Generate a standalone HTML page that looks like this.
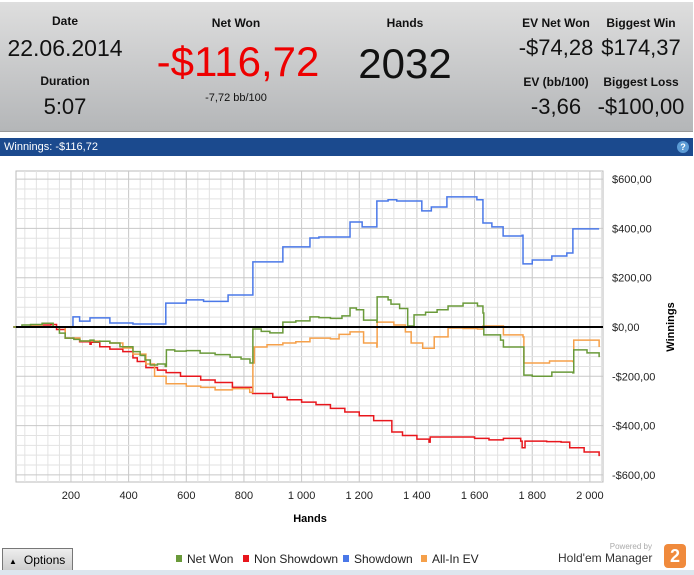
<!DOCTYPE html>
<html><head><meta charset="utf-8"><style>
body{margin:0;width:694px;height:575px;background:#fff;font-family:"Liberation Sans Narrow","Liberation Sans",sans-serif;overflow:hidden;position:relative}
.hdr{position:absolute;left:0;top:2px;width:693px;height:129px;background:linear-gradient(#dedede,#b4b6b8);border-bottom:1px solid #999}
.t{position:absolute;text-align:center;color:#111;white-space:nowrap;transform:translateX(-50%)}
.s{font-size:12px;font-weight:bold}
.tb{position:absolute;left:0;top:138px;width:693px;height:18px;background:#1b4a8e;color:#fff;font-size:11px;line-height:18px}
.foot{position:absolute;left:0;top:570px;width:694px;height:5px;background:#dde6ee}
</style></head><body>
<div class="hdr">
<div class="t s" style="left:65px;top:12px">Date</div>
<div class="t" style="left:65px;top:33px;font-size:23px">22.06.2014</div>
<div class="t s" style="left:65px;top:72px">Duration</div>
<div class="t" style="left:65px;top:92px;font-size:22px">5:07</div>
<div class="t s" style="left:236px;top:14px">Net Won</div>
<div class="t" style="left:238px;top:36px;font-size:42px;color:#e00">-$116,72</div>
<div class="t" style="left:236px;top:90px;font-size:11px">-7,72 bb/100</div>
<div class="t s" style="left:405px;top:14px">Hands</div>
<div class="t" style="left:405px;top:38px;font-size:42px">2032</div>
<div class="t s" style="left:556px;top:14px">EV Net Won</div>
<div class="t" style="left:556px;top:33px;font-size:22px">-$74,28</div>
<div class="t s" style="left:641px;top:14px">Biggest Win</div>
<div class="t" style="left:641px;top:33px;font-size:22px">$174,37</div>
<div class="t s" style="left:556px;top:73px">EV (bb/100)</div>
<div class="t" style="left:556px;top:92px;font-size:22px">-3,66</div>
<div class="t s" style="left:641px;top:73px">Biggest Loss</div>
<div class="t" style="left:641px;top:92px;font-size:22px">-$100,00</div>
</div>
<div class="tb"><span style="margin-left:4px">Winnings: -$116,72</span>
<span style="position:absolute;right:4px;top:3px;width:12px;height:12px;border-radius:6px;background:#5b9bd5;font-size:9px;line-height:12px;text-align:center;font-weight:bold">?</span></div>
<svg id="chart" width="694" height="575" style="position:absolute;left:0;top:0"></svg>
<div style="position:absolute;left:2px;top:548px;width:69px;height:22px;border:1px solid #777;background:linear-gradient(#eee,#ccc);font-size:12px;line-height:22px"><span style="font-size:8px;margin:0 7px 0 6px">▲</span>Options</div>
<div style="position:absolute;left:540px;top:542px;width:150px;height:28px;font-size:12px;color:#333">
<div style="position:absolute;right:38px;top:0;font-size:8px;color:#aaa">Powered by</div>
<div style="position:absolute;left:18px;top:9px">Hold'em Manager</div>
<div style="position:absolute;right:4px;top:2px;width:22px;height:24px;background:#f08a3c;color:#fff;font-weight:bold;font-size:18px;text-align:center;line-height:24px;border-radius:4px">2</div></div>
<div class="foot"></div>
<script>
const tickHands=[200,400,600,800,1000,1200,1400,1600,1800,2000];
const tickHandLabels=["200","400","600","800","1 000","1 200","1 400","1 600","1 800","2 000"];
const tickVals=[600,400,200,0,-200,-400,-600];
const tickValLabels=["$600,00","$400,00","$200,00","$0,00","-$200,00","-$400,00","-$600,00"];
const seriesNames=["Net Won","Non Showdown","Showdown","All-In EV"];
const seriesColors=["#6a9a3a","#e8161c","#4a78e8","#f5a04a"];
const sdHands=[0,207,230,266,272,335,415,529,600,660,745,831,935,1029,1060,1168,1210,1261,1300,1330,1417,1450,1504,1608,1629,1660,1699,1765,1768,1800,1868,1920,1941,2032];
const sdVals=[0,41,24,37,37,16,12,97,110,104,130,264,325,361,365,426,406,511,516,511,471,487,528,516,422,406,369,372,256,272,288,300,398,398];
const nwHands=[0,30,60,100,138,160,180,210,231,266,280,300,335,370,415,440,457,475,500,527,531,560,600,648,700,752,790,821,831,860,890,935,980,1029,1060,1100,1140,1168,1190,1215,1261,1262,1300,1310,1340,1368,1390,1430,1470,1508,1560,1610,1629,1632,1690,1700,1768,1771,1800,1868,1941,1944,1990,2032];
const nwVals=[0,8,10,15,0,-25,-45,-50,-57,-53,-60,-58,-65,-80,-100,-115,-134,-154,-150,-160,-93,-98,-96,-106,-112,-122,-130,-146,-8,-18,-24,20,25,41,38,35,45,77,70,28,20,122,110,93,75,4,49,60,70,85,97,85,57,-32,-53,-81,-81,-195,-200,-183,-186,-93,-105,-122];
const nsHands=[0,60,130,150,180,230,266,270,300,335,380,415,430,460,500,530,580,650,700,760,830,900,950,1000,1050,1100,1150,1200,1250,1313,1350,1400,1442,1446,1550,1600,1650,1700,1760,1765,1775,1850,1900,1930,1980,2032];
const nsVals=[0,8,10,-10,-45,-60,-70,-62,-80,-90,-100,-125,-140,-165,-175,-185,-200,-215,-225,-245,-270,-285,-295,-305,-315,-330,-345,-360,-380,-426,-440,-455,-467,-446,-446,-452,-458,-452,-463,-490,-463,-465,-467,-490,-507,-524];
const aiHands=[0,60,100,138,180,231,300,335,380,415,460,490,530,600,650,700,760,820,831,836,880,935,980,1029,1100,1130,1168,1215,1261,1262,1320,1360,1380,1420,1460,1508,1560,1610,1629,1700,1768,1771,1860,1941,1944,2032];
const aiVals=[0,8,15,0,-45,-57,-58,-65,-85,-110,-150,-200,-230,-240,-245,-255,-250,-265,-146,-81,-72,-65,-60,-45,-48,-30,-20,-65,-81,20,8,-20,-65,-86,-40,-4,-6,-8,4,-32,-40,-146,-138,-140,-53,-81];
const X=h=>13.3+h*0.2883, Y=v=>327-v*0.2465;
const svg=document.getElementById('chart'),NS='http://www.w3.org/2000/svg';
function mk(t,a,p){const e=document.createElementNS(NS,t);for(const k in a)e.setAttribute(k,a[k]);(p||svg).appendChild(e);return e;}
const L=16,R=603,T=171,B=482;
mk('rect',{x:L,y:T,width:R-L,height:B-T,fill:'#fff',stroke:'#bbb'});
for(let h=40;h<=2040;h+=40){const x=X(h);if(x<L||x>R)continue;const g=mk('line',{x1:x,x2:x,y1:T,y2:B,stroke:h%200?'#e2e2e2':'#c8c8c8'});

}
for(let v=-640;v<=640;v+=40){const y=Y(v);if(y<T||y>B)continue;const g=mk('line',{x1:L,x2:R,y1:y,y2:y,stroke:v%200?'#e2e2e2':'#c8c8c8'});

}
tickHands.forEach((h,i)=>{const t=mk('text',{x:X(h),y:499,'font-size':11,'text-anchor':'middle',fill:'#222'});t.textContent=tickHandLabels[i];

});
tickVals.forEach((v,i)=>{const t=mk('text',{x:612,y:Y(v)+4,'font-size':11,fill:'#222'});t.textContent=tickValLabels[i];

});
const xt=mk('text',{x:310,y:522,'font-size':11,'font-weight':'bold','text-anchor':'middle'});xt.textContent='Hands';


const yt=mk('text',{x:674,y:327,'font-size':11,'font-weight':'bold','text-anchor':'middle',transform:'rotate(-90 674 327)'});yt.textContent='Winnings';


function step(hs,vs){let d='M'+X(hs[0])+','+Y(vs[0]);for(let i=1;i<hs.length;i++){d+=' L'+X(hs[i])+','+Y(vs[i-1])+' L'+X(hs[i])+','+Y(vs[i]);}return d;}
const data=[[sdHands,sdVals,2],[nsHands,nsVals,1],[aiHands,aiVals,3],[nwHands,nwVals,0]];
const names=['showdown-line','non-showdown-line','all-in-ev-line','net-won-line'];
data.forEach((s,i)=>{const p=mk('path',{d:step(s[0],s[1]),fill:'none',stroke:seriesColors[s[2]],'stroke-width':1.5});

});
const z=mk('line',{x1:L,x2:R,y1:Y(0),y2:Y(0),stroke:'#000','stroke-width':2});


const lx=[176,243,343,421];
seriesNames.forEach((n,i)=>{const g=mk('g',{});


mk('rect',{x:lx[i],y:555,width:6,height:7,fill:seriesColors[i]},g);
const t=mk('text',{x:lx[i]+11,y:563,'font-size':12,fill:'#222'},g);t.textContent=n;});
</script>
</body></html>
